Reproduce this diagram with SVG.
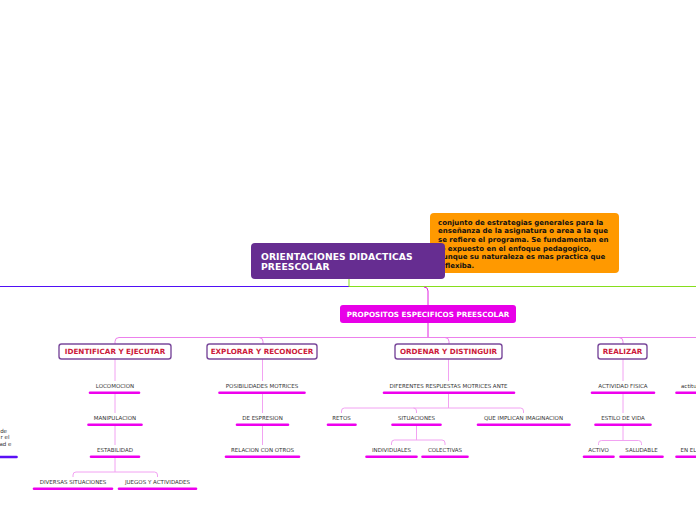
<svg xmlns="http://www.w3.org/2000/svg" width="696" height="520" viewBox="0 0 696 520">
<style>
.c{fill:none;stroke-width:1;}
.pk{stroke:#f2a2f2;}
.br{stroke:#ec80ec;}
.leaf{font-family:"DejaVu Sans",sans-serif;font-size:5.5px;fill:#333;text-anchor:middle;}
.bar{stroke:#ee00ee;stroke-width:2.6;stroke-linecap:round;}
.sub rect{fill:#fff;stroke:#7b4a9c;stroke-width:1.4;}
.sub text{font-family:"DejaVu Sans",sans-serif;font-weight:bold;font-size:7.2px;fill:#cc1a3a;text-anchor:middle;}
.ot{font-family:"DejaVu Sans",sans-serif;font-weight:bold;font-size:7px;fill:#111;}
</style>
<rect width="696" height="520" fill="#fff"/>
<g id="connectors">
<path class="c" d="M0,286.5 H349" stroke="#5010f5" stroke-width="1.1"/>
<path class="c" d="M349,279 V286.5 H696" stroke="#86de1c" stroke-width="1.1"/>
<path class="c" d="M424,287 Q428,287 428,291 V305" stroke="#e020e0"/>
<path class="c" d="M428,323 V337.5" stroke="#e020e0"/>
<path class="c br" d="M115,344 V341.5 Q115,337.5 119,337.5 H696"/>
<path class="c br" d="M259,337.5 Q263,337.5 263,341.5 V344"/>
<path class="c br" d="M445,337.5 Q449,337.5 449,341.5 V344"/>
<path class="c br" d="M619,337.5 Q623,337.5 623,341.5 V344"/>
<path class="c pk" d="M115,359 V381 M115,394 V413 M115,426 V445 M115,458 V472"/>
<path class="c pk" d="M73,477 V475 Q73,472 76,472 H154.5 Q157.5,472 157.5,475 V477"/>
<path class="c pk" d="M262.5,359 V381 M262.5,394 V413 M262.5,426 V445"/>
<path class="c pk" d="M448.5,359 V381 M448.5,394 V408"/>
<path class="c pk" d="M341.5,413 V411 Q341.5,408 344.5,408 H520.5 Q523.5,408 523.5,411 V413 M413.5,408 Q416.5,408 416.5,411 V413"/>
<path class="c pk" d="M416.5,426 V440"/>
<path class="c pk" d="M391.5,445 V443 Q391.5,440 394.5,440 H442 Q445,440 445,443 V445"/>
<path class="c pk" d="M623,359 V381 M623,394 V413 M623,426 V440.5"/>
<path class="c pk" d="M598.5,445 V443.5 Q598.5,440.5 601.5,440.5 H638.5 Q641.5,440.5 641.5,443.5 V445"/>
</g>
<g id="note">
<rect x="430" y="213" width="189" height="60" rx="4" fill="#ff9900"/>
<text class="ot" x="438" y="224.8">conjunto de estrategias generales para la</text>
<text class="ot" x="438" y="233.3">enseñanza de la asignatura o area a la que</text>
<text class="ot" x="438" y="241.9">se refiere el programa. Se fundamentan en</text>
<text class="ot" x="438" y="250.5">lo expuesto en el enfoque pedagogico,</text>
<text class="ot" x="438" y="259.1">aunque su naturaleza es mas practica que</text>
<text class="ot" x="438" y="267.6">y flexiba.</text>
</g>
<g id="main">
<rect x="251" y="243" width="194" height="36" rx="4" fill="#662d91"/>
<text x="261" y="259.5" font-family="DejaVu Sans, sans-serif" font-weight="bold" font-size="9.2" letter-spacing="0.1" fill="#fff">ORIENTACIONES DIDACTICAS</text>
<text x="261" y="270.3" font-family="DejaVu Sans, sans-serif" font-weight="bold" font-size="9.2" letter-spacing="0.1" fill="#fff">PREESCOLAR</text>
</g>
<g id="propositos">
<rect x="340" y="305" width="176" height="18" rx="3" fill="#e800e8"/>
<text x="428" y="316.8" font-family="DejaVu Sans, sans-serif" font-weight="bold" font-size="7.2" fill="#fff" text-anchor="middle">PROPOSITOS ESPECIFICOS PREESCOLAR</text>
</g>
<g id="identificar" class="sub"><rect x="59" y="344" width="112" height="15" rx="2.5"/><text x="115" y="354.2">IDENTIFICAR Y EJECUTAR</text></g>
<g id="explorar" class="sub"><rect x="207" y="344" width="110" height="15" rx="2.5"/><text x="262" y="354.2">EXPLORAR Y RECONOCER</text></g>
<g id="ordenar" class="sub"><rect x="395" y="344" width="107" height="15" rx="2.5"/><text x="448.5" y="354.2">ORDENAR Y DISTINGUIR</text></g>
<g id="realizar" class="sub"><rect x="598" y="344" width="49" height="15" rx="2.5"/><text x="622.5" y="354.2">REALIZAR</text></g>

<g id="locomocion"><text class="leaf" x="115" y="387.7">LOCOMOCION</text><path class="bar" d="M90,392.7 H139"/></g>
<g id="manipulacion"><text class="leaf" x="115" y="419.7">MANIPULACION</text><path class="bar" d="M88.5,424.7 H141.5"/></g>
<g id="estabilidad"><text class="leaf" x="115" y="451.7">ESTABILIDAD</text><path class="bar" d="M91,456.7 H139"/></g>
<g id="diversas"><text class="leaf" x="73" y="483.7">DIVERSAS SITUACIONES</text><path class="bar" d="M34,488.7 H112"/></g>
<g id="juegos"><text class="leaf" x="157.5" y="483.7">JUEGOS Y ACTIVIDADES</text><path class="bar" d="M119,488.7 H196"/></g>

<g id="posibilidades"><text class="leaf" x="262" y="387.7">POSIBILIDADES MOTRICES</text><path class="bar" d="M219.5,392.7 H304.5"/></g>
<g id="espresion"><text class="leaf" x="262.5" y="419.7">DE ESPRESION</text><path class="bar" d="M237,424.7 H288"/></g>
<g id="relacion"><text class="leaf" x="262.5" y="451.7">RELACION CON OTROS</text><path class="bar" d="M226,456.7 H299"/></g>

<g id="diferentes"><text class="leaf" x="448.5" y="387.7">DIFERENTES RESPUESTAS MOTRICES ANTE</text><path class="bar" d="M384,392.7 H514"/></g>
<g id="retos"><text class="leaf" x="341.5" y="419.7">RETOS</text><path class="bar" d="M328,424.7 H355.5"/></g>
<g id="situaciones"><text class="leaf" x="416.5" y="419.7">SITUACIONES</text><path class="bar" d="M392.5,424.7 H440.5"/></g>
<g id="imaginacion"><text class="leaf" x="523.5" y="419.7">QUE IMPLICAN IMAGINACION</text><path class="bar" d="M478,424.7 H569.5"/></g>
<g id="individuales"><text class="leaf" x="391.5" y="451.7">INDIVIDUALES</text><path class="bar" d="M366.5,456.7 H416.5"/></g>
<g id="colectivas"><text class="leaf" x="445" y="451.7">COLECTIVAS</text><path class="bar" d="M422.5,456.7 H467.5"/></g>

<g id="actividad"><text class="leaf" x="623" y="387.7">ACTIVIDAD FISICA</text><path class="bar" d="M592,392.7 H654"/></g>
<g id="estilo"><text class="leaf" x="623" y="419.7">ESTILO DE VIDA</text><path class="bar" d="M595.5,424.7 H650.5"/></g>
<g id="activo"><text class="leaf" x="598.5" y="451.7">ACTIVO</text><path class="bar" d="M584,456.7 H613.5"/></g>
<g id="saludable"><text class="leaf" x="641.5" y="451.7">SALUDABLE</text><path class="bar" d="M620.5,456.7 H662.5"/></g>

<g id="actitu"><text class="leaf" x="681" y="387.7" style="text-anchor:start">actitu</text><path class="bar" d="M676.5,392.7 H700"/></g>
<g id="enel"><text class="leaf" x="680.5" y="451.7" style="text-anchor:start">EN EL</text><path class="bar" d="M676.5,456.7 H700"/></g>

<g id="left-note">
<text class="leaf" x="7" y="433" style="text-anchor:end">de</text>
<text class="leaf" x="9.5" y="438.5" style="text-anchor:end">r el</text>
<text class="leaf" x="11.5" y="446" style="text-anchor:end">ad e</text>
<path d="M-2,457 H16.5" stroke="#5a10f5" stroke-width="2.6" stroke-linecap="round"/>
</g>
</svg>
